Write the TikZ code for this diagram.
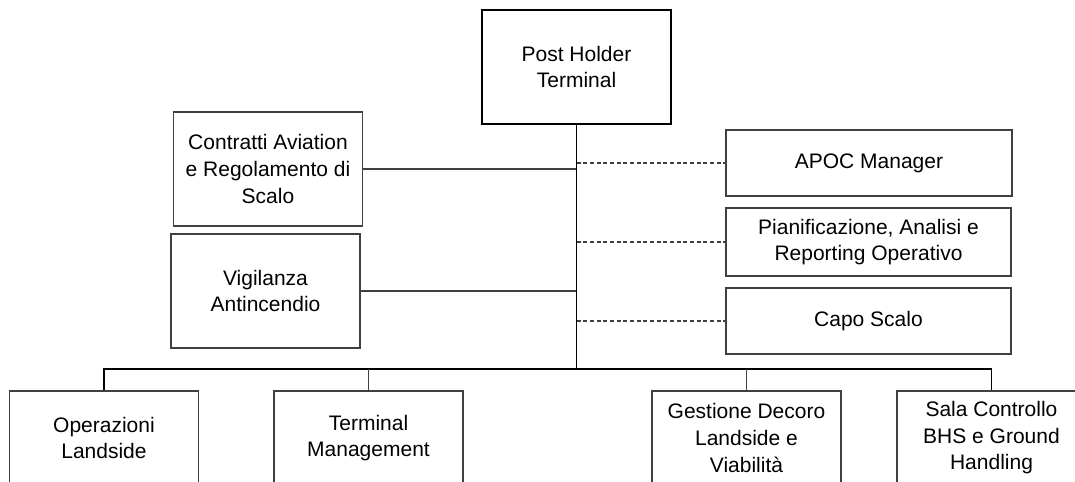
\documentclass[tikz,border=0pt]{standalone}
\usepackage{fontspec}
\setmainfont{Liberation Sans}
\usepackage{tikz}
\usetikzlibrary{calc}

\begin{document}
\begin{tikzpicture}[x=0.75pt,y=-0.75pt,
  unit/.style={draw=black!75,line width=0.8pt,fill=white,align=center,inner sep=0pt,
    minimum width=189pt*0.75,minimum height=114pt*0.75,font=\fontsize{15.75}{19.9}\selectfont},
  head/.style={unit,draw=black,line width=1.6pt},
  link/.style={draw=black!75,line width=0.8pt},
  staff/.style={link,dash pattern=on 3pt off 2pt}]
\clip (0,0) rectangle (1075,482);
\node[head] (ph) at (576.5,67) {Post Holder\\Terminal};
\node[unit] (contratti) at (268,169) {Contratti Aviation\\e Regolamento di\\Scalo};
\node[unit] (vigilanza) at (265.5,291) {Vigilanza\\Antincendio};
\node[unit,minimum width=286pt*0.75,minimum height=66pt*0.75] (apoc) at (869,163) {APOC Manager};
\node[unit,minimum width=285pt*0.75,minimum height=68pt*0.75] (pian) at (868.5,242) {Pianificazione, Analisi e\\Reporting Operativo};
\node[unit,minimum width=285pt*0.75,minimum height=66pt*0.75] (capo) at (868.5,321) {Capo Scalo};
\node[unit,minimum height=94pt*0.75] (oper) at (104,438) {Operazioni\\Landside};
\node[unit,minimum height=94pt*0.75] (tm) at (368.5,438) {Terminal\\Management};
\node[unit,minimum height=94pt*0.75] (gest) at (746.5,438) {Gestione Decoro\\Landside e\\Viabilità};
\node[unit,minimum height=94pt*0.75] (sala) at (991.5,438) {Sala Controllo\\BHS e Ground\\Handling};
\coordinate (bus) at (ph.south |- 0,369);
\draw[link] (contratti.east) -- (contratti.east -| ph.south);
\draw[link] (vigilanza.east) -- (vigilanza.east -| ph.south);
\draw[staff] (apoc.west -| ph.south) -- (apoc.west);
\draw[staff] (pian.west -| ph.south) -- (pian.west);
\draw[staff] (capo.west -| ph.south) -- (capo.west);
\draw[line width=0.8pt] (ph.south) -- (bus);
\draw[link,draw=black] (oper.north) |- (bus) -| (sala.north);
\draw[link] (tm.north) -- (tm.north |- bus);
\draw[link] (gest.north) -- (gest.north |- bus);
\end{tikzpicture}
\end{document}
